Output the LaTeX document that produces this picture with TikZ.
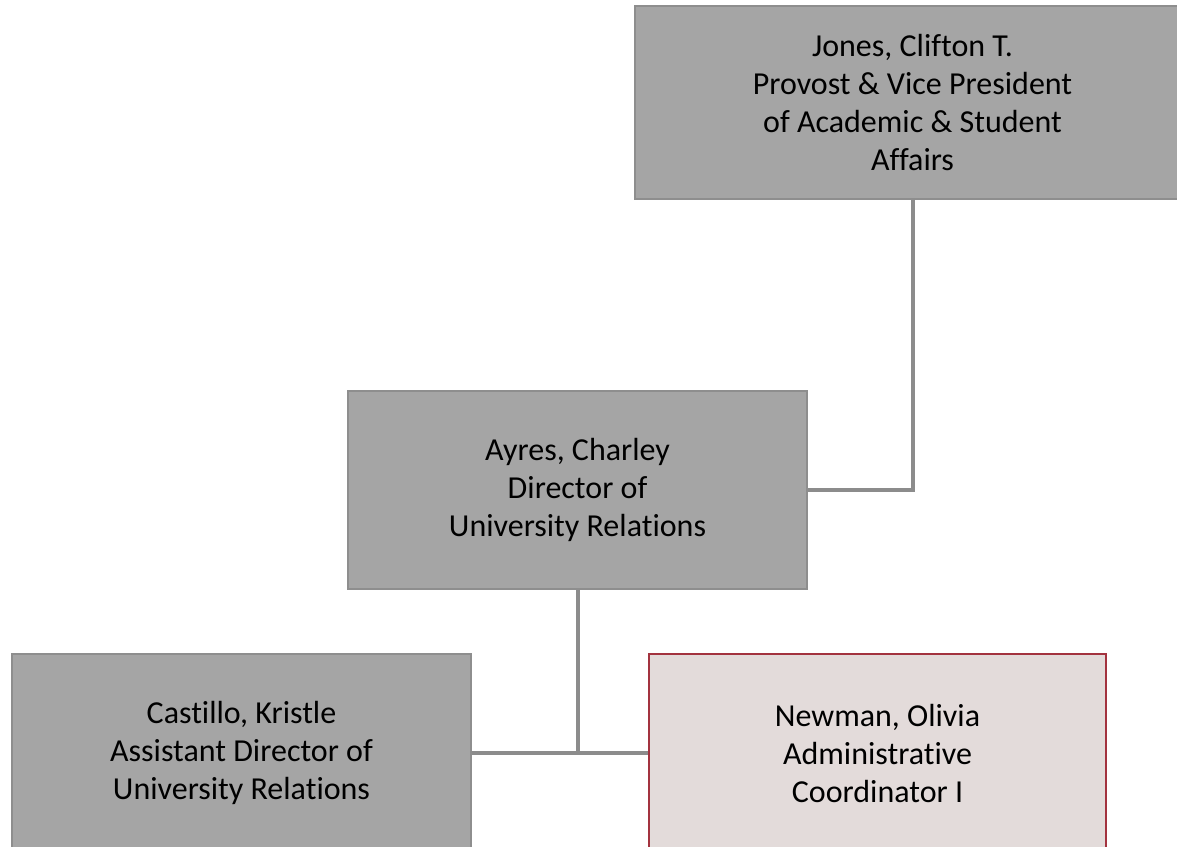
\documentclass[tikz,border=0pt]{standalone}
\usepackage{fontspec}
\setmainfont{Carlito}[Ligatures=NoCommon]
\definecolor{boxgray}{HTML}{A5A5A5}
\definecolor{boxedge}{HTML}{8E8E8E}
\definecolor{linegray}{HTML}{8C8C8C}
\definecolor{rosefill}{HTML}{E3DBDA}
\definecolor{roseedge}{HTML}{A3333F}
\begin{document}
\begin{tikzpicture}[x=1pt,y=-1pt,
  orgbox/.style={rectangle, draw=boxedge, line width=1.5pt, fill=boxgray,
    align=center, inner sep=0pt, font=\fontsize{32}{38}\selectfont, text=black},
  rosebox/.style={orgbox, draw=roseedge, fill=rosefill},
  conn/.style={draw=linegray, line width=4pt}]
\useasboundingbox (0,0) rectangle (1177,846);
\clip (0,0) rectangle (1177,846);
\fill[white] (0,0) rectangle (1177,846);

\node[orgbox, minimum width=555pt, minimum height=193pt] (jones) at (912.5,102.5)
  {Jones, Clifton T.\\Provost \& Vice President\\of Academic \& Student\\Affairs};
\node[orgbox, minimum width=459pt, minimum height=198pt] (ayres) at (577.5,490)
  {Ayres, Charley\\Director of\\University Relations};
\node[orgbox, minimum width=459pt, minimum height=198pt] (castillo) at (241.5,753)
  {Castillo, Kristle\\Assistant Director of\\University Relations};
\node[rosebox, minimum width=457pt, minimum height=198pt] (newman) at (877.5,753)
  {Newman, Olivia\\Administrative\\Coordinator I};

\draw[conn] (jones.south) |- (ayres.east);
\coordinate (junction) at (ayres.south |- castillo.east);
\draw[conn] (ayres.south) -- (junction);
\draw[conn] (castillo.east) -- (newman.west);
\end{tikzpicture}
\end{document}
